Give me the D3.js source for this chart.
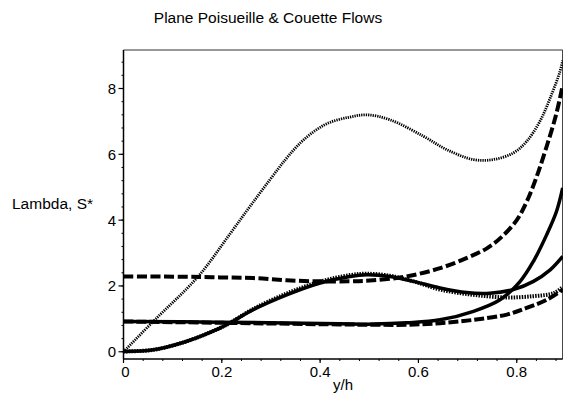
<!DOCTYPE html>
<html><head><meta charset="utf-8">
<script src="https://cdn.jsdelivr.net/npm/d3@7"></script>
<style>body{margin:0;background:#fff}text{font-family:"Liberation Sans",Arial,sans-serif;fill:#000}</style>
</head><body><svg id="c" width="563" height="394"></svg>
<script>
const title = "Plane Poisueille & Couette Flows";
const xLabel = "y/h";
const yLabel = "Lambda, S*";
const xTicks = [0, 0.2, 0.4, 0.6, 0.8];
const xTickLabels = ["0", "0.2", "0.4", "0.6", "0.8"];
const yTicks = [0, 2, 4, 6, 8];
const yTickLabels = ["0", "2", "4", "6", "8"];
const xDomain = [0, 0.8935];
const yDomain = [-0.22, 9.17];

// thin dotted
const seriesA = [[0,0],[0.061,0.93],[0.152,2.29],[0.217,3.59],[0.257,4.41],[0.298,5.23],[0.33,5.85],[0.36,6.35],[0.39,6.72],[0.42,6.97],[0.46,7.13],[0.495,7.20],[0.542,7.05],[0.61,6.55],[0.658,6.14],[0.712,5.84],[0.752,5.84],[0.793,6.04],[0.82,6.39],[0.847,7.0],[0.868,7.71],[0.888,8.52],[0.8935,8.85]];
// thick dashed starting at 2.3
const seriesB = [[0,2.29],[0.12,2.28],[0.196,2.26],[0.264,2.24],[0.332,2.17],[0.40,2.14],[0.461,2.14],[0.508,2.17],[0.576,2.29],[0.644,2.54],[0.70,2.86],[0.74,3.15],[0.77,3.5],[0.80,4.0],[0.82,4.55],[0.84,5.3],[0.86,6.2],[0.88,7.2],[0.8935,8.1]];
// solid starting at 0.9
const seriesC = [[0,0.92],[0.196,0.90],[0.44,0.85],[0.508,0.84],[0.576,0.88],[0.644,0.97],[0.712,1.23],[0.766,1.58],[0.807,2.14],[0.834,2.75],[0.861,3.56],[0.881,4.27],[0.8935,4.98]];
// dashed starting at 0.9
const seriesE = [[0,0.92],[0.2,0.88],[0.44,0.83],[0.508,0.82],[0.576,0.82],[0.644,0.87],[0.712,0.97],[0.78,1.13],[0.82,1.33],[0.861,1.58],[0.8935,1.88]];
// solid starting at 0
const seriesD1 = [[0,0.01],[0.061,0.06],[0.129,0.32],[0.196,0.72],[0.217,0.88],[0.264,1.28],[0.332,1.73],[0.40,2.09],[0.461,2.29],[0.495,2.34],[0.542,2.29],[0.59,2.14],[0.644,1.94],[0.698,1.80],[0.745,1.78],[0.793,1.89],[0.834,2.14],[0.868,2.49],[0.8935,2.90]];
// thick dotted starting at 0
const seriesD2 = [[0,0.01],[0.061,0.06],[0.129,0.32],[0.196,0.72],[0.217,0.88],[0.264,1.30],[0.332,1.77],[0.40,2.13],[0.461,2.33],[0.495,2.37],[0.542,2.31],[0.59,2.14],[0.644,1.89],[0.712,1.73],[0.78,1.65],[0.834,1.69],[0.875,1.78],[0.8935,1.97]];

const svg = d3.select("#c");
const L = 123.5, R = 562.7, T = 50, B = 359;
const x = d3.scaleLinear().domain(xDomain).range([L, R]);
const y = d3.scaleLinear().domain(yDomain).range([B, T]);

svg.append("defs").append("clipPath").attr("id","clip")
  .append("rect").attr("x",L).attr("y",T-2).attr("width",R-L+2).attr("height",B-T+2);

// frame top/right
svg.append("line").attr("x1",L).attr("x2",R).attr("y1",T).attr("y2",T).attr("stroke","#333").attr("stroke-width",1.2);
svg.append("line").attr("x1",R).attr("x2",R).attr("y1",T).attr("y2",B).attr("stroke","#333").attr("stroke-width",1.2);

// axes
const minorX = d3.range(0, 0.8935, 0.04);
const minorY = d3.range(0, 9.17, 0.4);
svg.append("line").attr("x1",L).attr("x2",L).attr("y1",T).attr("y2",B).attr("stroke","#000").attr("stroke-width",1.5);
svg.append("line").attr("x1",L).attr("x2",R).attr("y1",B).attr("y2",B).attr("stroke","#000").attr("stroke-width",1.5);

const gx = svg.append("g");
gx.selectAll("line.mn").data(minorX).join("line").attr("x1",d=>x(d)).attr("x2",d=>x(d)).attr("y1",B).attr("y2",B+2).attr("stroke","#000");
gx.selectAll("line.mj").data(xTicks).join("line").attr("x1",d=>x(d)).attr("x2",d=>x(d)).attr("y1",B).attr("y2",B+4).attr("stroke","#000").attr("stroke-width",1.2);
gx.selectAll("text").data(xTicks).join("text").attr("x",(d,i)=>x(d)+(i===0?2:0)).attr("y",377).attr("text-anchor","middle").attr("font-size",15).text((d,i)=>xTickLabels[i]);

const gy = svg.append("g");
gy.selectAll("line.mn").data(minorY).join("line").attr("x1",L-2).attr("x2",L).attr("y1",d=>y(d)).attr("y2",d=>y(d)).attr("stroke","#000");
gy.selectAll("line.mj").data(yTicks).join("line").attr("x1",L-5).attr("x2",L).attr("y1",d=>y(d)).attr("y2",d=>y(d)).attr("stroke","#000").attr("stroke-width",1.2);
gy.selectAll("text").data(yTicks).join("text").attr("x",116).attr("y",d=>y(d)+5.5).attr("text-anchor","end").attr("font-size",15).text((d,i)=>yTickLabels[i]);

svg.append("text").attr("x",268).attr("y",23).attr("text-anchor","middle").attr("font-size",15.5).text(title);
svg.append("text").attr("x",(L+R)/2).attr("y",390).attr("text-anchor","middle").attr("font-size",15).text(xLabel);
svg.append("text").attr("x",12).attr("y",209).attr("font-size",15.5).text(yLabel);

const line = d3.line().x(d=>x(d[0])).y(d=>y(d[1])).curve(d3.curveCatmullRom.alpha(0.5));
const g = svg.append("g").attr("clip-path","url(#clip)");
const styles = [
  {d: seriesD2, w: 4, dash: "1.5,1.2"},
  {d: seriesE, w: 4, dash: "10,3"},
  {d: seriesC, w: 3.5, dash: null},
  {d: seriesD1, w: 3.5, dash: null},
  {d: seriesB, w: 4, dash: "10,3.5"},
  {d: seriesA, w: 2.8, dash: "1.3,1"}
];
styles.forEach(s => {
  g.append("path").attr("d", line(s.d)).attr("fill","none").attr("stroke","#000")
   .attr("stroke-width", s.w).attr("stroke-dasharray", s.dash);
});
</script></body></html>
